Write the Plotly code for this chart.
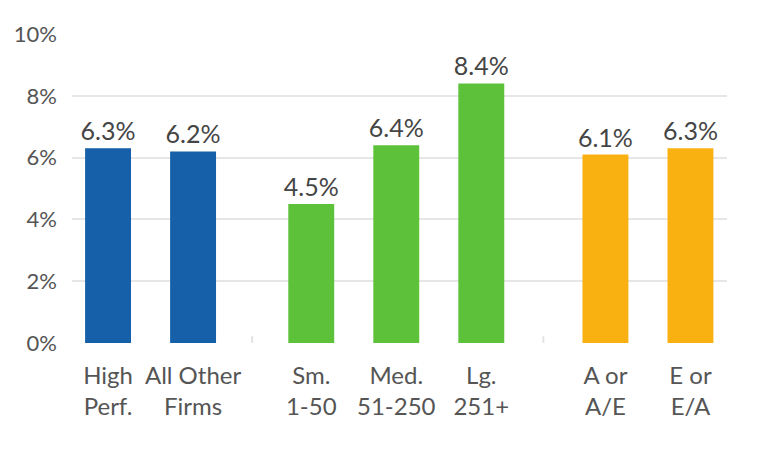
import plotly.graph_objects as go

categories = ["High<br>Perf.", "All Other<br>Firms", "Sm.<br>1-50", "Med.<br>51-250", "Lg.<br>251+", "A or<br>A/E", "E or<br>E/A"]
values = [6.3, 6.2, 4.5, 6.4, 8.4, 6.1, 6.3]
groups = [0, 0, 1, 1, 1, 2, 2]
group_colors = ["#1560A8", "#5DC23A", "#F9B112"]
y_ticks = [0, 2, 4, 6, 8, 10]

group_offsets = [0.0, 0.39, 0.85]  # extra spacing before each group
xpos = [i + group_offsets[g] for i, g in enumerate(groups)]
colors = [group_colors[g] for g in groups]
labels = [f"{v:.1f}%" for v in values]

fig = go.Figure()
fig.add_trace(go.Bar(
    x=xpos, y=values, width=0.54,
    marker=dict(color=colors, line=dict(width=0)),
    text=labels, textposition="outside", cliponaxis=False,
    constraintext="none",
    textfont=dict(family="Lato", size=25, color="#454545"),
))

# group separators on baseline
for k in range(1, len(groups)):
    if groups[k] != groups[k - 1]:
        xm = (xpos[k] + xpos[k - 1]) / 2
        fig.add_shape(type="line", xref="x", yref="y", x0=xm, x1=xm, y0=0, y1=0.22,
                      line=dict(color="#e3e3e3", width=2))

fig.update_layout(
    width=762, height=450,
    margin=dict(l=64, r=43, t=26, b=115),
    plot_bgcolor="white", paper_bgcolor="white",
    showlegend=False,
    font=dict(family="Lato", color="#555555"),
    xaxis=dict(
        range=[-0.424, xpos[-1] + 0.43],
        tickmode="array", tickvals=xpos, ticktext=categories,
        showgrid=False, zeroline=False, showline=False, ticks="",
        ticklabelstandoff=16, automargin=False,
        tickfont=dict(size=24, color="#555555"),
    ),
    yaxis=dict(
        range=[0, 10], tickmode="array", tickvals=y_ticks,
        ticktext=[f"{t}%" for t in y_ticks],
        showgrid=True, gridcolor="#e6e6e6", gridwidth=2,
        zeroline=False, showline=False, ticks="",
        ticklabelstandoff=14, automargin=False,
        tickfont=dict(size=22, color="#555555"),
    ),
)

fig.write_html("out.html")
